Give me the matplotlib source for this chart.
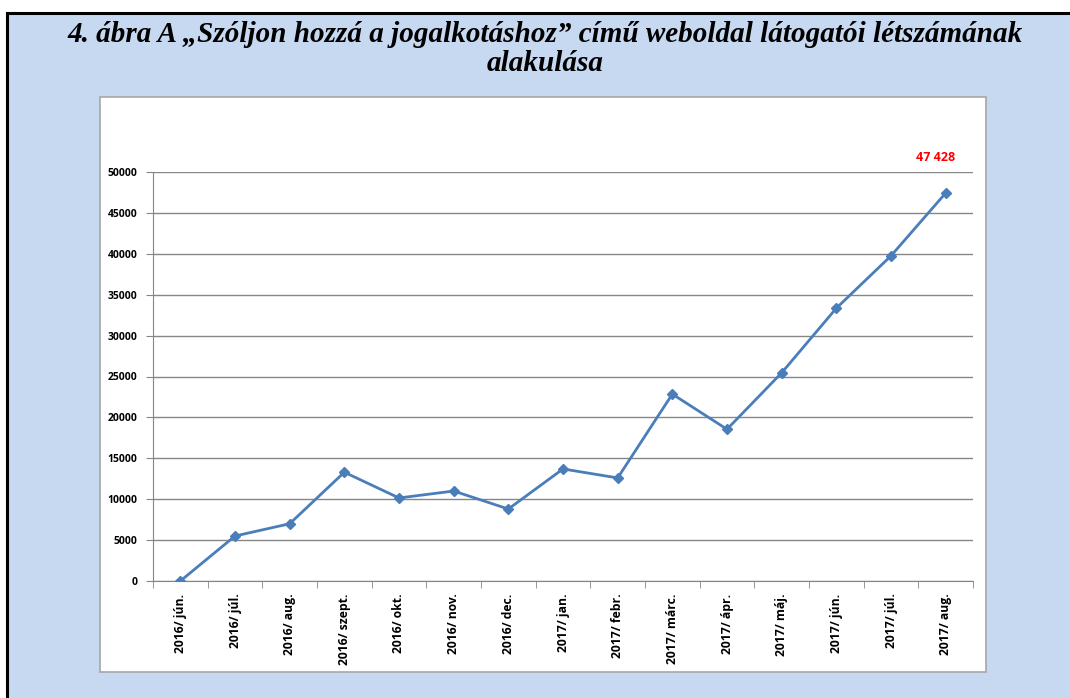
import matplotlib.pyplot as plt
from matplotlib.patches import Rectangle
from matplotlib.lines import Line2D
import numpy as np

months = ['2016/ jún.', '2016/ júl.', '2016/ aug.', '2016/ szept.', '2016/ okt.',
          '2016/ nov.', '2016/ dec.', '2017/ jan.', '2017/ febr.', '2017/ márc.',
          '2017/ ápr.', '2017/ máj.', '2017/ jún.', '2017/ júl.', '2017/ aug.']
visitors = [0, 5500, 7000, 13300, 10150, 11000, 8800, 13700, 12600, 22850,
            18550, 25450, 33350, 39750, 47428]
last_label = '47 428'
title = ('4. ábra A \u201eSzóljon hozzá a jogalkotáshoz\u201d című weboldal látogatói létszámának\n'
         'alakulása')

W, H = 1070, 698
fig = plt.figure(figsize=(W / 100, H / 100), dpi=100, facecolor='white')


def fx(px):
    return px / W


def fy(py):
    return 1 - py / H


# light blue frame with black top/left border
fig.patches.append(Rectangle((fx(7), 0), 1 - fx(7), fy(13), transform=fig.transFigure,
                             facecolor='#c6d9f1', edgecolor='none', zorder=-2))
fig.lines.append(Line2D([fx(7), 1], [fy(12.5), fy(12.5)], transform=fig.transFigure,
                        color='black', lw=2.2))
fig.lines.append(Line2D([fx(6.5), fx(6.5)], [0, fy(12.5)], transform=fig.transFigure,
                        color='black', lw=2.2))

# white chart panel
fig.patches.append(Rectangle((fx(100), fy(672)), fx(986) - fx(100), fy(97) - fy(672),
                             transform=fig.transFigure, facecolor='white',
                             edgecolor='#a6a6a6', lw=1.2, zorder=-1))

fig.text(fx(545), fy(49), title, ha='center', va='center', fontsize=21,
         family='Liberation Serif', fontweight='bold', fontstyle='italic',
         linespacing=1.05)

ax = fig.add_axes([fx(153), fy(581), fx(973) - fx(153), fy(172) - fy(581)])
ax.set_facecolor('none')
x = np.arange(len(months))
ax.plot(x, visitors, color='#4a7ebb', lw=2, marker='D', markersize=5, zorder=3)

ax.set_xlim(-0.5, len(months) - 0.5)
ax.set_ylim(0, 50000)
ax.set_yticks(np.arange(0, 50001, 5000))
ax.set_yticklabels([str(v) for v in range(0, 50001, 5000)])
ax.grid(axis='y', color='#868686', lw=1)
ax.set_axisbelow(True)

ax.set_xticks(x)
ax.set_xticklabels(months, rotation=90)
ax.set_xticks(np.arange(-0.5, len(months), 1), minor=True)
ax.tick_params(axis='x', which='major', length=0, pad=9)
ax.tick_params(axis='x', which='minor', length=5, color='#868686', direction='out')
ax.tick_params(axis='y', length=5, color='#868686', pad=6)
for lab in ax.get_yticklabels():
    lab.set_family('Open Sans')
    lab.set_fontweight('bold')
    lab.set_fontsize(7.5)
for lab in ax.get_xticklabels():
    lab.set_family('Open Sans')
    lab.set_fontweight('bold')
    lab.set_fontsize(8.7)

for side in ['top', 'right']:
    ax.spines[side].set_visible(False)
for side in ['left', 'bottom']:
    ax.spines[side].set_color('#868686')

ax.annotate(last_label, (x[-1], visitors[-1]), xytext=(-10, 36), textcoords='offset pixels',
            ha='center', va='center', color='red', fontweight='bold', fontsize=9,
            family='Open Sans')

fig.savefig('out.png', dpi=100)
